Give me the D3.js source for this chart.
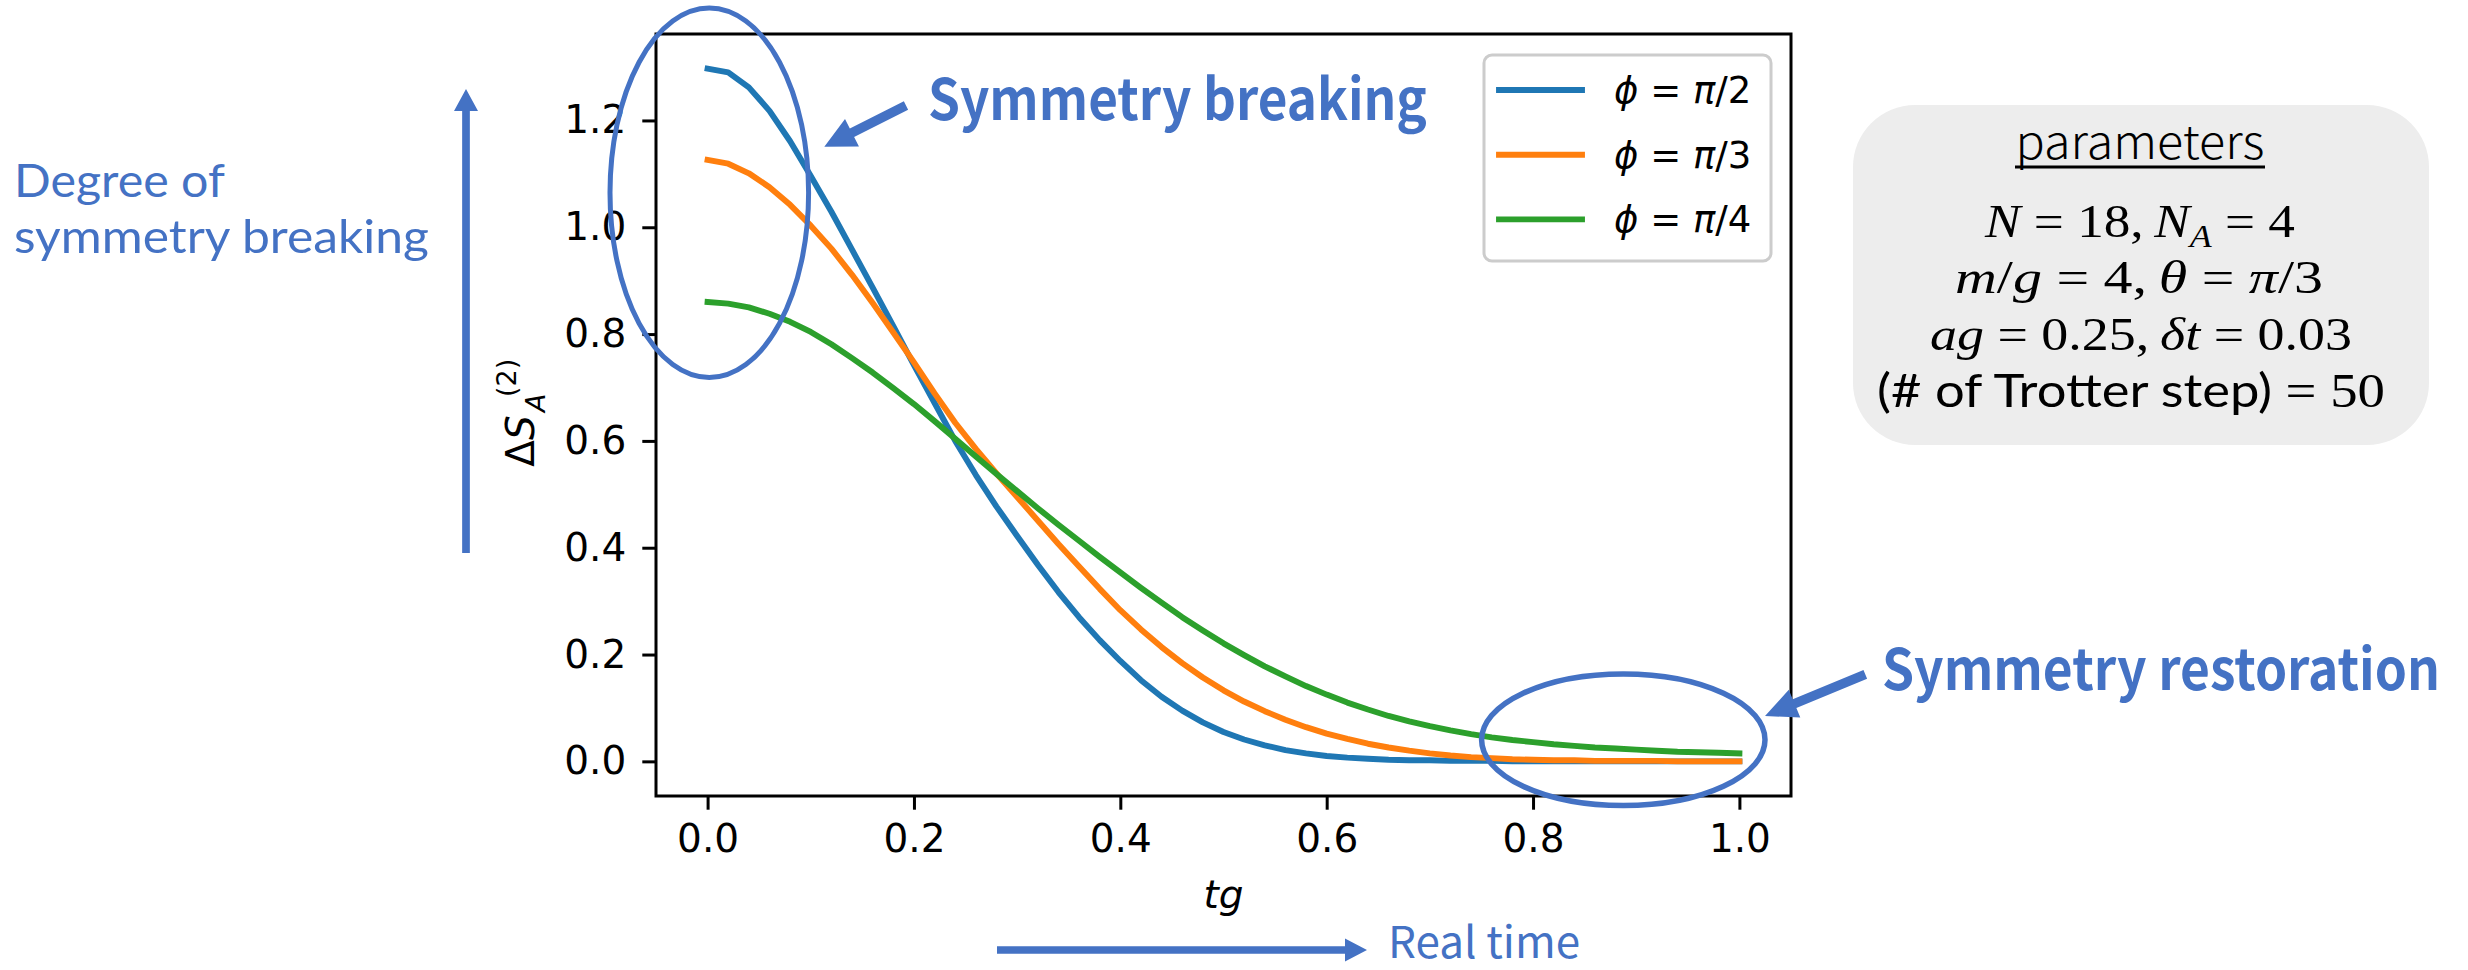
<!DOCTYPE html>
<html>
<head>
<meta charset="utf-8">
<script src="https://cdn.jsdelivr.net/npm/d3@7"></script>
<style>
  body { margin: 0; background: #fff; }
  svg { display: block; }
</style>
</head>
<body>
<div id="my_dataviz"></div>
<script>
// time grid (tg), one point per Trotter step
const tgSteps = [0.00,0.02,0.04,0.06,0.08,0.10,0.12,0.14,0.16,0.18,
  0.20,0.22,0.24,0.26,0.28,0.30,0.32,0.34,0.36,0.38,
  0.40,0.42,0.44,0.46,0.48,0.50,0.52,0.54,0.56,0.58,
  0.60,0.62,0.64,0.66,0.68,0.70,0.72,0.74,0.76,0.78,
  0.80,0.82,0.84,0.86,0.88,0.90,0.92,0.94,0.96,0.98,1.00];

// Delta S_A^(2)
const phiHalf = [1.297,1.290,1.262,1.218,1.161,1.096,1.029,0.958,0.887,0.815,
  0.742,0.671,0.600,0.536,0.477,0.422,0.368,0.317,0.270,0.227,
  0.188,0.152,0.121,0.095,0.073,0.055,0.041,0.030,0.021,0.015,
  0.010,0.007,0.005,0.003,0.002,0.002,0.001,0.001,0.001,0.000,
  0,0,0,0,0,0,0,0,0,0,0];
const phiThird = [1.126,1.119,1.101,1.075,1.042,1.003,0.960,0.911,0.858,0.803,
  0.747,0.689,0.634,0.585,0.539,0.495,0.451,0.407,0.365,0.323,
  0.283,0.247,0.214,0.184,0.157,0.133,0.112,0.094,0.078,0.064,
  0.052,0.042,0.033,0.026,0.020,0.015,0.011,0.008,0.006,0.004,
  0.003,0.002,0.002,0.001,0.001,0.001,0.001,0,0,0,0];
const phiQuarter = [0.860,0.857,0.850,0.838,0.823,0.804,0.781,0.755,0.728,0.699,
  0.669,0.637,0.604,0.571,0.538,0.506,0.474,0.443,0.413,0.383,
  0.354,0.325,0.297,0.270,0.245,0.221,0.199,0.178,0.159,0.141,
  0.125,0.110,0.097,0.085,0.075,0.066,0.058,0.051,0.045,0.040,
  0.036,0.032,0.029,0.026,0.024,0.022,0.020,0.018,0.017,0.016,0.015];

const seriesLabels = ["π/2", "π/3", "π/4"];
const xTicks = [0.0, 0.2, 0.4, 0.6, 0.8, 1.0];
const yTicks = [0.0, 0.2, 0.4, 0.6, 0.8, 1.0, 1.2];
const paramLines = ["N = 18, N_A = 4", "m/g = 4, θ = π/3", "ag = 0.25, δt = 0.03", "(# of Trotter step) = 50"];

const allSeries = [phiHalf, phiThird, phiQuarter];
const colors = ["#1f77b4", "#ff7f0e", "#2ca02c"];
const blue = "#4472C4";
const jp = "'Noto Sans CJK JP', 'Noto Sans', sans-serif";
const lato = "Lato, 'Noto Sans', sans-serif";
const dv = "'DejaVu Sans', sans-serif";
const serif = "'Liberation Serif', serif";

// set the dimensions and margins of the graph
let margin = {top: 34, right: 677, bottom: 174, left: 656},
  width = 2468 - margin.left - margin.right,
  height = 970 - margin.top - margin.bottom;

const root = d3.select("#my_dataviz")
  .append("svg")
    .attr("width", 2468)
    .attr("height", 970);

const svg = root.append("g")
    .attr("transform", "translate(" + margin.left + "," + margin.top + ")");

// matplotlib style 5% margins
let xPad = 0.05 * (d3.max(tgSteps) - d3.min(tgSteps));
let x = d3.scaleLinear()
  .domain([d3.min(tgSteps) - xPad, d3.max(tgSteps) + xPad])
  .range([0, width]);

let yMin = d3.min(allSeries, s => d3.min(s)), yMax = d3.max(allSeries, s => d3.max(s));
let yPad = 0.05 * (yMax - yMin);
let y = d3.scaleLinear()
  .domain([yMin - yPad, yMax + yPad])
  .range([height, 0]);

// axes
const xAxis = svg.append("g")
  .attr("transform", "translate(0," + height + ")")
  .call(d3.axisBottom(x).tickValues(xTicks).tickFormat(d3.format(".1f"))
    .tickSize(13.7).tickSizeOuter(0).tickPadding(15));
const yAxis = svg.append("g")
  .call(d3.axisLeft(y).tickValues(yTicks).tickFormat(d3.format(".1f"))
    .tickSize(13.7).tickSizeOuter(0).tickPadding(16));

[xAxis, yAxis].forEach(a => {
  a.select(".domain").remove();
  a.selectAll(".tick line").attr("stroke", "#000").attr("stroke-width", 3);
  a.selectAll(".tick text")
    .style("font-family", dv)
    .style("font-size", "39px")
    .attr("fill", "#000");
});

// the lines
let line = d3.line()
  .x((d, i) => x(tgSteps[i]))
  .y(d => y(d));

svg.selectAll("mylines")
  .data(allSeries)
  .enter()
  .append("path")
    .attr("d", line)
    .attr("fill", "none")
    .attr("stroke", (d, i) => colors[i])
    .attr("stroke-width", 5.9)
    .attr("stroke-linejoin", "round")
    .attr("stroke-linecap", "square");

// frame
svg.append("rect")
  .attr("width", width).attr("height", height)
  .attr("fill", "none").attr("stroke", "#000").attr("stroke-width", 3);

// axis labels
svg.append("text")
  .attr("x", width / 2).attr("y", height + 112)
  .attr("text-anchor", "middle")
  .style("font-family", dv).style("font-size", "39px").style("font-style", "italic")
  .text("tg");

const yl = root.append("g").attr("transform", "translate(534,419) rotate(-90)")
  .style("font-family", dv).attr("fill", "#000");
yl.append("text").attr("x", -47.7).attr("y", 0).style("font-size", "39px")
  .call(t => { t.append("tspan").text("Δ"); t.append("tspan").style("font-style", "italic").text("S"); });
yl.append("text").attr("x", 7).attr("y", 11).style("font-size", "27px").style("font-style", "italic").text("A");
yl.append("text").attr("x", 22).attr("y", -18).style("font-size", "27px").text("(2)");

// legend
const legend = root.append("g");
legend.append("rect")
  .attr("x", 1484).attr("y", 55).attr("width", 287).attr("height", 206)
  .attr("rx", 8).attr("fill", "#fff").attr("fill-opacity", 0.8)
  .attr("stroke", "#cccccc").attr("stroke-width", 3);
const rows = legend.selectAll("rows").data(seriesLabels).enter().append("g")
  .attr("transform", (d, i) => "translate(0," + (i * 64.7) + ")");
rows.append("line")
  .attr("x1", 1499).attr("x2", 1582).attr("y1", 90).attr("y2", 90)
  .attr("stroke", (d, i) => colors[i]).attr("stroke-width", 5.9).attr("stroke-linecap", "square");
rows.append("text")
  .attr("x", 1614).attr("y", 103)
  .style("font-family", dv).style("font-size", "37px")
  .each(function(d) {
    const t = d3.select(this);
    t.append("tspan").style("font-style", "italic").text("ϕ");
    t.append("tspan").text(" = ");
    t.append("tspan").style("font-style", "italic").text(d.slice(0, 1));
    t.append("tspan").text(d.slice(1));
  });

// ellipses
root.append("ellipse").attr("cx", 709.3).attr("cy", 192.8).attr("rx", 99.3).attr("ry", 184.7)
  .attr("fill", "none").attr("stroke", blue).attr("stroke-width", 5);
root.append("ellipse").attr("cx", 1623.3).attr("cy", 739.7).attr("rx", 141.7).attr("ry", 65.8)
  .attr("fill", "none").attr("stroke", blue).attr("stroke-width", 5.5);

// block arrows
function blockArrow(a) {
  const [x1, y1] = a.from, [x2, y2] = a.to;
  const L = Math.hypot(x2 - x1, y2 - y1), ux = (x2 - x1) / L, uy = (y2 - y1) / L;
  const nx = -uy, ny = ux, bx = x2 - ux * a.head, by = y2 - uy * a.head;
  const p = [
    [x1 + nx * a.shaft / 2, y1 + ny * a.shaft / 2],
    [bx + nx * a.shaft / 2, by + ny * a.shaft / 2],
    [bx + nx * a.width / 2, by + ny * a.width / 2],
    [x2, y2],
    [bx - nx * a.width / 2, by - ny * a.width / 2],
    [bx - nx * a.shaft / 2, by - ny * a.shaft / 2],
    [x1 - nx * a.shaft / 2, y1 - ny * a.shaft / 2]];
  return "M" + p.map(q => q.join(",")).join("L") + "Z";
}
const arrows = [
  {from: [466, 553], to: [466, 89], shaft: 7.7, head: 22, width: 24},
  {from: [997, 950], to: [1367, 950], shaft: 7.7, head: 22, width: 23},
  {from: [906, 105.5], to: [824.3, 146.7], shaft: 9.5, head: 31, width: 31},
  {from: [1865.3, 674.3], to: [1765, 716], shaft: 9.5, head: 32, width: 30}
];
root.selectAll("arrows").data(arrows).enter().append("path")
  .attr("d", blockArrow).attr("fill", blue);

// annotation texts; "fit" squeezes the text to the width seen in the reference
function note(x0, y0, txt, size, weight, fit, family) {
  const t = root.append("text")
    .style("font-family", family || jp).style("font-size", size + "px").style("font-weight", weight)
    .attr("fill", blue).text(txt);
  let k = 1;
  if (fit) k = fit / t.node().getComputedTextLength();
  t.attr("transform", "translate(" + x0 + "," + y0 + ") scale(" + k + ",1)");
}
note(928, 120, "Symmetry breaking", 57, 700, 499);
note(1882, 690, "Symmetry restoration", 57, 700, 558);
note(14, 197, "Degree of", 47, 400, 211, lato);
note(14, 253, "symmetry breaking", 47, 400, 415, lato);
note(1388, 958, "Real time", 44, 400);

// parameters box
const box = root.append("g");
box.append("rect").attr("x", 1853).attr("y", 105).attr("width", 576).attr("height", 340)
  .attr("rx", 62).attr("fill", "#ededed");
box.append("text").attr("x", 2015.5).attr("y", 159)
  .attr("textLength", 249).attr("lengthAdjust", "spacingAndGlyphs")
  .style("font-family", jp).style("font-size", "46px").style("font-weight", 300)
  .attr("fill", "#000").text("parameters");
box.append("line").attr("x1", 2015).attr("x2", 2265).attr("y1", 167).attr("y2", 167)
  .attr("stroke", "#000").attr("stroke-width", 3);

// math lines: italic for letters, upright for digits and symbols
function mathLine(t, str) {
  const parts = str.replace(/, /g, ",\u2009")
    .split(/(_A|\(# of Trotter step\)|[A-Za-zθπδ]+)/).filter(s => s !== "");
  let back = 0;
  parts.forEach(s => {
    let sp;
    if (s === "_A") {
      t.append("tspan").attr("dy", 10).style("font-size", "31px").style("font-style", "italic").text("A");
      back = -10;
      return;
    } else if (s.startsWith("(#")) {
      sp = t.append("tspan").style("font-family", lato).style("font-size", "46px").text(s);
    } else if (/^[A-Za-zθπδ]+$/.test(s)) {
      sp = t.append("tspan").style("font-style", "italic").text(s);
    } else {
      sp = t.append("tspan").text(s);
    }
    if (back) { sp.attr("dy", back); back = 0; }
  });
}
const lineStart = [1985, 1955, 1930, 1877];
const lineWidth = [310, 368, 422, 508];
box.selectAll("plines").data(paramLines).enter().append("text")
  .attr("x", (d, i) => lineStart[i])
  .attr("y", (d, i) => 236.7 + i * 56.7)
  .attr("textLength", (d, i) => lineWidth[i])
  .attr("lengthAdjust", "spacingAndGlyphs")
  .style("font-family", serif).style("font-size", (d, i) => (i === 3 ? 48 : 46) + "px").attr("fill", "#000")
  .each(function(d) { mathLine(d3.select(this), d); });
</script>
</body>
</html>
